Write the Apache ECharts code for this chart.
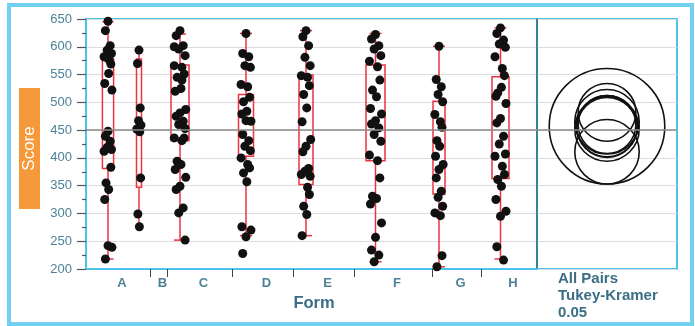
<!DOCTYPE html>
<html>
<head>
<meta charset="utf-8">
<script src="https://cdn.jsdelivr.net/npm/echarts@6/dist/echarts.min.js"></script>
<style>
html,body{margin:0;padding:0;background:#fff;}
#c{width:695px;height:326px;}
</style>
</head>
<body>
<div id="c"></div>
<script>
// ---------- DATA ----------
var categories = ['A', 'B', 'C', 'D', 'E', 'F', 'G', 'H'];
var yTicks = [200, 250, 300, 350, 400, 450, 500, 550, 600, 650];

var scoresA = [646, 629, 602, 594, 588, 582, 576, 569, 581, 552, 534, 522, 448, 439, 430, 419, 415, 412, 418, 383, 355, 343, 325, 239, 242, 218];
var scoresB = [594, 570, 490, 467, 459, 452, 447, 364, 299, 276];
var scoresC = [629, 620, 602, 596, 584, 566, 563, 551, 545, 525, 520, 487, 481, 475, 466, 460, 453, 436, 431, 436, 394, 388, 379, 365, 349, 343, 310, 301, 252, 600, 540];
var scoresD = [624, 588, 582, 566, 563, 532, 528, 509, 501, 484, 479, 466, 467, 442, 431, 421, 413, 400, 388, 382, 373, 357, 276, 270, 258, 228];
var scoresE = [629, 618, 602, 581, 566, 548, 545, 530, 514, 490, 465, 433, 421, 411, 381, 376, 367, 370, 347, 334, 313, 298, 260];
var scoresF = [622, 614, 602, 596, 584, 574, 564, 540, 522, 510, 489, 479, 467, 461, 454, 442, 430, 405, 395, 364, 331, 327, 317, 283, 257, 234, 225, 213];
var scoresG = [601, 541, 528, 514, 501, 478, 465, 455, 431, 421, 403, 388, 379, 364, 340, 329, 313, 301, 296, 224, 204];
var scoresH = [634, 624, 612, 605, 599, 582, 561, 548, 517, 527, 511, 498, 471, 463, 439, 425, 407, 403, 385, 370, 361, 349, 325, 304, 295, 240, 216];

var boxQ1 = [381, 347, 431, 403, 352, 395, 335, 363];
var boxQ3 = [578, 578, 567, 514, 549, 567, 502, 546];
var whiskerLow = [218, 276, 252, 260, 260, 213, 204, 218];
var whiskerHigh = [645, 594, 623, 624, 629, 624, 601, 634];

var grandMean = 450;
var circleCenters = [465, 457, 482, 457, 452, 460, 411, 455];
var circleRadii = [58, 104, 52, 55, 58, 52, 58, 54];

// ---------- LAYOUT (not data) ----------
var groupWidths = [64, 17, 65, 61, 61, 78, 49, 56];   // band widths of the x axis
var groupCenters = [22, 53, 94, 160, 220, 289.5, 353, 414.5]; // where each group's column sits
var boxHalf = [5.6, 2.5, 9, 7.5, 7, 9.5, 6, 8.5];
var jitterPattern = [0, -0.6, 0.5, -0.2, 0.8, -0.9, 0.3, 0.65, -0.45, 0.15, -0.75, 0.9];

var allScores = [scoresA, scoresB, scoresC, scoresD, scoresE, scoresF, scoresG, scoresH];

var bounds = [];
var mids = [];
var acc = 0;
groupWidths.forEach(function (w) { mids.push(acc + w / 2); acc += w; bounds.push(acc); });
var xMax = acc;
bounds.pop();

var points = [];
allScores.forEach(function (arr, g) {
  arr.forEach(function (v, i) {
    var j = jitterPattern[i % jitterPattern.length] * (boxHalf[g] * 0.6 + 1);
    points.push([groupCenters[g] + j, v]);
  });
});

var boxData = categories.map(function (c, g) {
  return [groupCenters[g], boxQ1[g], boxQ3[g], whiskerLow[g], whiskerHigh[g], boxHalf[g]];
});
var circleData = categories.map(function (c, g) {
  return [50, circleCenters[g], circleRadii[g]];
});

var FONT = '"Liberation Sans", Arial, sans-serif';
var TEAL = '#4d8299';
var DARKTEAL = '#3b6e85';
var BLUE = '#4cc4ea';
var RED = '#ec3340';

var chart = echarts.init(document.getElementById('c'), null, { renderer: 'canvas' });

var option = {
  animation: false,
  backgroundColor: '#fff',
  grid: [
    { left: 86, top: 19, width: 451, height: 250, show: true, borderColor: BLUE, borderWidth: 2, backgroundColor: 'transparent' },
    { left: 537, top: 19, width: 140, height: 250, show: true, borderColor: BLUE, borderWidth: 2, backgroundColor: 'transparent' }
  ],
  xAxis: [
    {
      gridIndex: 0, type: 'value', min: 0, max: xMax,
      axisLine: { show: true, lineStyle: { color: BLUE, width: 2 } },
      splitLine: { show: false },
      axisTick: { show: true, customValues: bounds, length: 8, lineStyle: { color: '#444', width: 1 } },
      axisLabel: {
        show: true, customValues: mids, margin: 8, padding: [0, 0, 0, 8],
        color: TEAL, fontFamily: FONT, fontSize: 13, fontWeight: 'bold',
        formatter: function (v) {
          var best = 0, d = 1e9;
          mids.forEach(function (m, i) { if (Math.abs(m - v) < d) { d = Math.abs(m - v); best = i; } });
          return categories[best];
        }
      }
    },
    {
      gridIndex: 1, type: 'value', min: 0, max: 100,
      axisLine: { show: false }, axisTick: { show: false }, axisLabel: { show: false }, splitLine: { show: false }
    }
  ],
  yAxis: [
    {
      gridIndex: 0, type: 'value', min: yTicks[0], max: yTicks[yTicks.length - 1], interval: 50,
      axisLine: { show: true, lineStyle: { color: BLUE, width: 2 } },
      axisTick: { show: true, length: 9, lineStyle: { color: '#555', width: 1.2 } },
      minorTick: { show: true, splitNumber: 2, length: 4, lineStyle: { color: '#555', width: 1.2 } },
      axisLabel: { color: TEAL, fontFamily: FONT, fontSize: 13, margin: 14 },
      splitLine: { show: true, lineStyle: { color: '#dcdcdc', width: 1 } }
    },
    {
      gridIndex: 1, type: 'value', min: yTicks[0], max: yTicks[yTicks.length - 1], interval: 50,
      axisLine: { show: true, lineStyle: { color: '#2f6a7c', width: 1.5 } },
      axisTick: { show: false }, axisLabel: { show: false },
      splitLine: { show: true, lineStyle: { color: '#dcdcdc', width: 1 } }
    }
  ],
  series: [
    {
      type: 'custom', xAxisIndex: 0, yAxisIndex: 0, z: 3,
      data: boxData,
      renderItem: function (params, api) {
        var cx = api.value(0), q1 = api.value(1), q3 = api.value(2), lo = api.value(3), hi = api.value(4), hw = api.value(5);
        var pTL = api.coord([cx - hw, q3]);
        var pBR = api.coord([cx + hw, q1]);
        var pc = api.coord([cx, lo]);
        var pHi = api.coord([cx, hi]);
        var x = pc[0];
        var capHalf = Math.max(4, Math.min(6, (pBR[0] - pTL[0]) / 2));
        var st = { stroke: RED, lineWidth: 1.5, fill: null };
        return {
          type: 'group',
          children: [
            { type: 'rect', shape: { x: pTL[0], y: pTL[1], width: pBR[0] - pTL[0], height: pBR[1] - pTL[1] }, style: { stroke: RED, lineWidth: 1.5, fill: 'rgba(0,0,0,0)' } },
            { type: 'line', shape: { x1: x, y1: pHi[1], x2: x, y2: pTL[1] }, style: st },
            { type: 'line', shape: { x1: x, y1: pBR[1], x2: x, y2: pc[1] }, style: st },
            { type: 'line', shape: { x1: x - capHalf, y1: pHi[1], x2: x + capHalf, y2: pHi[1] }, style: st },
            { type: 'line', shape: { x1: x - capHalf, y1: pc[1], x2: x + capHalf, y2: pc[1] }, style: st }
          ]
        };
      }
    },
    {
      type: 'scatter', xAxisIndex: 0, yAxisIndex: 0, z: 4,
      data: points, symbolSize: 9,
      itemStyle: { color: '#111', opacity: 1 },
      markLine: {
        silent: true, symbol: 'none', label: { show: false },
        lineStyle: { color: '#8a8a8a', width: 1.5, type: 'solid' },
        data: [{ yAxis: grandMean }]
      }
    },
    {
      type: 'custom', xAxisIndex: 1, yAxisIndex: 1, z: 4,
      data: circleData,
      renderItem: function (params, api) {
        var cxv = api.value(0), cyv = api.value(1), rv = api.value(2);
        var c = api.coord([cxv, cyv]);
        var r = api.size([0, rv], [cxv, cyv])[1];
        return { type: 'circle', shape: { cx: c[0], cy: c[1], r: r }, style: { fill: 'rgba(0,0,0,0)', stroke: '#111', lineWidth: 1.6 } };
      },
      markLine: {
        silent: true, symbol: 'none', label: { show: false },
        lineStyle: { color: '#8a8a8a', width: 1.5, type: 'solid' },
        data: [{ yAxis: grandMean }]
      }
    }
  ],
  graphic: [
    { type: 'rect', shape: { x: 9, y: 5, width: 683, height: 319 }, style: { fill: 'none', stroke: '#72d0f0', lineWidth: 4 }, z: 0 },
    { type: 'rect', shape: { x: 19, y: 88, width: 21, height: 121 }, style: { fill: '#f6993a' }, z: 1 },
    { type: 'text', x: 29.5, y: 148.5, rotation: Math.PI / 2, style: { text: 'Score', fill: '#fff', font: '17px ' + FONT, textAlign: 'center', textVerticalAlign: 'middle' }, z: 2 },
    { type: 'text', x: 314, y: 303, style: { text: 'Form', fill: DARKTEAL, font: 'bold 16.5px ' + FONT, textAlign: 'center', textVerticalAlign: 'middle' }, z: 2 },
    { type: 'text', x: 558, y: 279, style: { text: 'All Pairs', fill: DARKTEAL, font: 'bold 15px ' + FONT, textAlign: 'left', textVerticalAlign: 'middle' }, z: 2 },
    { type: 'text', x: 558, y: 296, style: { text: 'Tukey-Kramer', fill: DARKTEAL, font: 'bold 15px ' + FONT, textAlign: 'left', textVerticalAlign: 'middle' }, z: 2 },
    { type: 'text', x: 558, y: 313, style: { text: '0.05', fill: DARKTEAL, font: 'bold 15px ' + FONT, textAlign: 'left', textVerticalAlign: 'middle' }, z: 2 }
  ]
};
chart.setOption(option);
</script>
</body>
</html>
